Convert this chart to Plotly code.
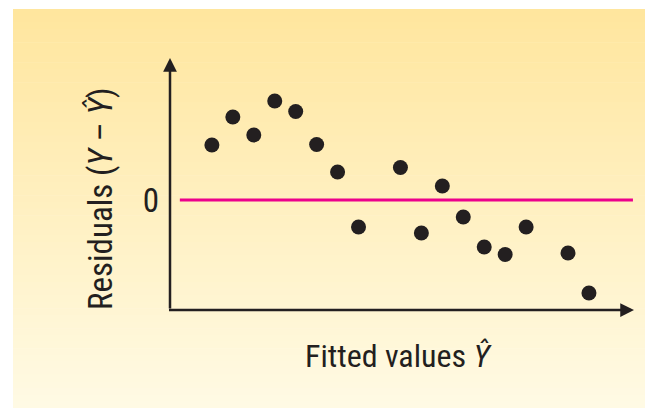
import plotly.graph_objects as go

# Data
fitted = [1, 2, 3, 4, 5, 6, 7, 8, 10, 11, 12, 13, 14, 15, 16, 18, 19]
residuals = [5.5, 8.3, 6.5, 9.9, 8.85, 5.55, 2.8, -2.7, 3.25, -3.3, 1.4, -1.7,
             -4.7, -5.45, -2.7, -5.3, -9.3]
y_tick_vals = [0]
y_tick_text = ["0"]

INK = "#231F20"
MAGENTA = "#EC008C"
FONT = "Liberation Sans Narrow, Arial Narrow, Roboto Condensed, Liberation Sans, sans-serif"

W, H = 645, 408
ML, MR, MT, MB = 170, 11, 58, 98
pw, ph = W - ML - MR, H - MT - MB

def px_to_paper_x(px):
    return (px - ML) / pw

def px_to_paper_y(py):
    return (H - MB - py) / ph

fig = go.Figure()
fig.add_trace(go.Scatter(
    x=fitted, y=residuals, mode="markers",
    marker=dict(size=15, color=INK, line=dict(width=0)),
    hoverinfo="x+y", showlegend=False,
))

shapes = []
# gradient background panel
top_c = (255, 230, 158)
bot_c = (255, 250, 228)
n = 60
y_top, y_bot = 9, 408
x_left, x_right = 13, 645
for i in range(n):
    t = i / (n - 1)
    c = tuple(round(top_c[k] + (bot_c[k] - top_c[k]) * t) for k in range(3))
    y0 = y_top + (y_bot - y_top) * i / n
    y1 = y_top + (y_bot - y_top) * (i + 1) / n + 0.6
    shapes.append(dict(
        type="rect", xref="paper", yref="paper", layer="below",
        x0=px_to_paper_x(x_left), x1=px_to_paper_x(x_right),
        y0=px_to_paper_y(min(y1, y_bot)), y1=px_to_paper_y(y0),
        fillcolor="rgb(%d,%d,%d)" % c, line=dict(width=0),
    ))
# zero reference line
shapes.append(dict(type="line", xref="x", yref="y", x0=-0.53, x1=21.1, y0=0, y1=0,
                   line=dict(color=MAGENTA, width=3), layer="below"))

annotations = [
    # y axis arrow
    dict(x=-1.0, y=14.2, ax=-1.0, ay=-11, xref="x", yref="y", axref="x", ayref="y",
         showarrow=True, arrowhead=2, arrowsize=1.1, arrowwidth=2.5, arrowcolor=INK,
         text="", standoff=0, startstandoff=0),
    # x axis arrow
    dict(x=21.15, y=-11, ax=-1.12, ay=-11, xref="x", yref="y", axref="x", ayref="y",
         showarrow=True, arrowhead=2, arrowsize=1.1, arrowwidth=2.5, arrowcolor=INK,
         text="", standoff=0, startstandoff=0),
    # y title
    dict(x=px_to_paper_x(100), y=px_to_paper_y(199), xref="paper", yref="paper",
         text="Residuals (<i>Y</i> – <i>Ŷ</i>)", textangle=-90, showarrow=False,
         font=dict(family=FONT, size=33, color=INK), xanchor="center", yanchor="middle"),
    # x title
    dict(x=px_to_paper_x(398), y=px_to_paper_y(356), xref="paper", yref="paper",
         text="Fitted values <i>Ŷ</i>", showarrow=False,
         font=dict(family=FONT, size=32, color=INK), xanchor="center", yanchor="middle"),
]

fig.update_layout(
    width=W, height=H,
    margin=dict(l=ML, r=MR, t=MT, b=MB, pad=0),
    paper_bgcolor="white", plot_bgcolor="rgba(0,0,0,0)",
    shapes=shapes, annotations=annotations,
    xaxis=dict(range=[-1.0, 21.15], showgrid=False, zeroline=False, showline=False,
               showticklabels=False, ticks="", fixedrange=True),
    yaxis=dict(range=[-11, 14.2], showgrid=False, zeroline=False, showline=False,
               tickvals=y_tick_vals, ticktext=y_tick_text, ticks="",
               ticklabelstandoff=10,
               tickfont=dict(family=FONT, size=33, color=INK), fixedrange=True),
    font=dict(family=FONT, color=INK),
)

fig.write_html(
    "out.html",
    config={"displayModeBar": False},
    post_script="document.body.style.margin='0';document.body.style.overflow='hidden';",
)
